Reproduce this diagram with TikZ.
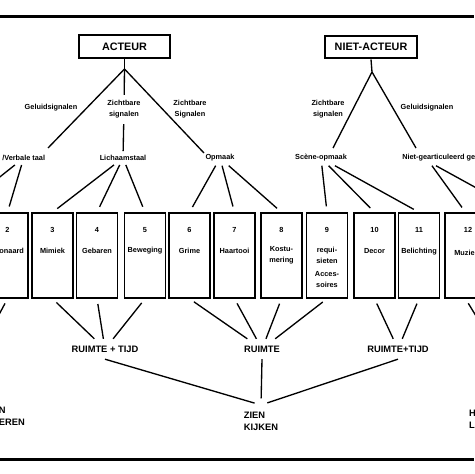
\documentclass[tikz,border=0pt]{standalone}
\usepackage{fontspec}
\setmainfont{Liberation Sans}

\tikzset{
  lijn/.style={line width=1pt},
  titel/.style={draw, line width=1.7pt, font=\bfseries\fontsize{8.1}{9}\selectfont, minimum height=17pt, inner sep=0pt},
  vak/.style={draw, line width=1.1pt, minimum width=30.75pt, minimum height=63.75pt, inner sep=0pt},
  klein/.style={font=\bfseries\fontsize{5.5}{8.25}\selectfont, align=center, inner sep=3pt},
  groot/.style={font=\bfseries\fontsize{7}{8.8}\selectfont, align=center, inner sep=5pt},
}

\begin{document}
\begin{tikzpicture}[x=0.75pt,y=0.75pt,yscale=-1,xscale=1]
	\useasboundingbox (0,0) rectangle (474,474);
	
	%rules
	\draw [line width=2pt] (0,16.5) -- (474,16.5) ;
	\draw [line width=2pt] (0,459.5) -- (474,459.5) ;
	
	%top of the tree
	\node [titel, minimum width=68pt] (acteur) at (124.5,46.5) {ACTEUR};
	\node [titel, minimum width=69pt] (nietacteur) at (371,47) {NIET-ACTEUR};
	\coordinate (a0) at (124.5,69);
	\coordinate (a1) at (48,148);
	\coordinate (a3) at (204,153);
	\coordinate (n0) at (372,72);
	\coordinate (n1) at (333,148);
	\coordinate (n2) at (416,148);
	
	\node [klein] (gel1) at (51,108) {Geluidsignalen};
	\node [klein, inner sep=4pt] (zsig1) at (124,109.5) {Zichtbare\\signalen};
	\node [klein] (zsig2) at (190,109.5) {Zichtbare\\Signalen};
	\node [klein] (zsig3) at (328,109.5) {Zichtbare\\signalen};
	\node [klein] (gel2) at (427,108) {Geluidsignalen};
	
	\node [klein, anchor=west] (verbaal) at (-2,158) {/Verbale taal};
	\node [klein] (lichaam) at (123,158) {Lichaamstaal};
	\node [klein] (opmaak) at (220,158) {Opmaak};
	\node [klein] (scene) at (321,158) {Scène-opmaak};
	\node [klein, anchor=west] (nietgeluid) at (398,158) {Niet-gearticuleerd geluid};
	
	\draw [lijn] (acteur.south) -- (a0) ;
	\draw [lijn] (a0) -- (a1) ;
	\draw [lijn] (a0) -- (zsig1) ;
	\draw [lijn] (zsig1) -- (lichaam) ;
	\draw [lijn] (a0) -- (a3) ;
	\draw [lijn] (nietacteur.south) -- (n0) ;
	\draw [lijn] (n0) -- (n1) ;
	\draw [lijn] (n0) -- (n2) ;
	
	%the signs
	\node [vak] (b2) at (7.5,255.5) {};
	\node [vak] (b3) at (52.5,255.5) {};
	\node [vak] (b4) at (97,255.5) {};
	\node [vak] (b5) at (145,255.5) {};
	\node [vak] (b6) at (189.5,255.5) {};
	\node [vak] (b7) at (234.5,255.5) {};
	\node [vak] (b8) at (281.5,255.5) {};
	\node [vak] (b9) at (327,255.5) {};
	\node [vak] (b10) at (374.5,255.5) {};
	\node [vak] (b11) at (419,255.5) {};
	\node [vak] (b12) at (465.5,255.5) {};
	
	\node [klein] (n2t) at (7.5,230) {2};
	\node [klein] (n3t) at (52.5,230) {3};
	\node [klein] (n4t) at (97,230) {4};
	\node [klein] (n5t) at (145,230) {5};
	\node [klein] (n6t) at (189.5,230) {6};
	\node [klein] (n7t) at (234.5,230) {7};
	\node [klein] (n8t) at (281.5,230) {8};
	\node [klein] (n9t) at (327,230) {9};
	\node [klein] (n10t) at (374.5,230) {10};
	\node [klein] (n11t) at (419,230) {11};
	\node [klein] (n12t) at (468,230) {12};
	
	\node [klein] (t2) at (7.5,251) {Toonaard};
	\node [klein] (t3) at (52.5,251) {Mimiek};
	\node [klein] (t4) at (97,251) {Gebaren};
	\node [klein] (t5) at (145,251) {Beweging};
	\node [klein] (t6) at (189.5,251) {Grime};
	\node [klein] (t7) at (234.5,251) {Haartooi};
	\node [klein] (t8) at (281.5,255.5) {Kostu-\\mering};
	\node [klein] (t9) at (327,255.5) {requi-\\sieten};
	\node [klein] (t9b) at (327,279.5) {Acces-\\soires};
	\node [klein] (t10) at (374.5,251) {Decor};
	\node [klein] (t11) at (419,252) {Belichting};
	\node [klein] (t12) at (466.5,253) {Muziek};
	
	\coordinate (c1) at (-38,207);
	\coordinate (c13) at (511,207);
	\draw [lijn] (verbaal) -- (c1) ;
	\draw [lijn, shorten >=4.5pt] (verbaal) -- (b2.north) ;
	\draw [lijn, shorten >=4.5pt] (lichaam) -- (b3.north) ;
	\draw [lijn, shorten >=4.5pt] (lichaam) -- (b4.north) ;
	\draw [lijn, shorten >=4.5pt] (lichaam) -- (b5.north) ;
	\draw [lijn, shorten >=4.5pt] (opmaak) -- (b6.north) ;
	\draw [lijn, shorten >=4.5pt] (opmaak) -- (b7.north) ;
	\draw [lijn, shorten >=4.5pt] (opmaak) -- (b8.north) ;
	\draw [lijn, shorten >=4.5pt] (scene) -- (b9.north) ;
	\draw [lijn, shorten >=4.5pt] (scene) -- (b10.north) ;
	\draw [lijn, shorten >=4.5pt] (scene) -- (b11.north) ;
	\draw [lijn, shorten >=4.5pt] ([xshift=-10pt]nietgeluid.south) -- (b12.north) ;
	\draw [lijn] ([xshift=-7pt]nietgeluid.south) -- (c13) ;
	
	%bottom of the tree
	\node [groot] (rt) at (105,349) {RUIMTE + TIJD};
	\node [groot] (ruimte) at (262,349) {RUIMTE};
	\node [groot] (rtt) at (398,349) {RUIMTE+TIJD};
	\node [groot, anchor=north, align=left] (zien) at (261,405) {ZIEN\\KIJKEN};
	\node [groot, anchor=west, align=left] (horen1) at (-35,416.5) {HOREN\\LUISTEREN};
	\node [groot, anchor=west, align=left] (horen2) at (462.3,419.5) {HOREN\\LUISTEREN};
	
	\coordinate (c2) at (-14,339);
	\coordinate (c12) at (490,339);
	\draw [lijn, shorten <=4pt] (b2.south) -- (c2) ;
	\draw [lijn, shorten <=4pt] (b3.south) -- (rt) ;
	\draw [lijn, shorten <=4pt] (b4.south) -- (rt) ;
	\draw [lijn, shorten <=4pt] (b5.south) -- (rt) ;
	\draw [lijn, shorten <=4pt] (b6.south) -- (ruimte) ;
	\draw [lijn, shorten <=4pt] (b7.south) -- (ruimte) ;
	\draw [lijn, shorten <=4pt] (b8.south) -- (ruimte) ;
	\draw [lijn, shorten <=4pt] (b9.south) -- (ruimte) ;
	\draw [lijn, shorten <=4pt] (b10.south) -- (rtt) ;
	\draw [lijn, shorten <=4pt] (b11.south) -- (rtt) ;
	\draw [lijn, shorten <=4pt] (b12.south) -- (c12) ;
	
	\draw [lijn, shorten >=5pt] (rt.south) -- (zien.north) ;
	\draw [lijn, shorten >=5pt] (ruimte.south) -- (zien.north) ;
	\draw [lijn, shorten >=5pt] (rtt.south) -- (zien.north) ;
	
\end{tikzpicture}
\end{document}
